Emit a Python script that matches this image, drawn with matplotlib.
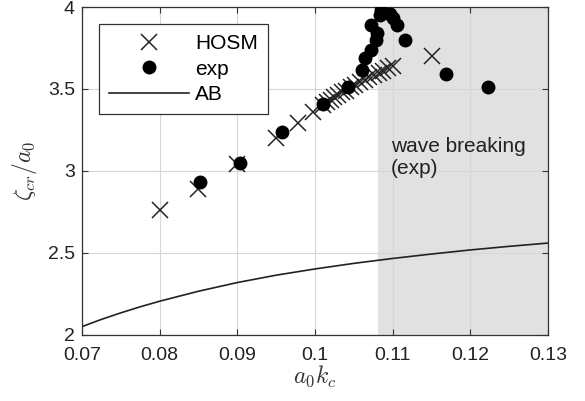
import matplotlib
matplotlib.use("Agg")
import matplotlib.pyplot as plt

plt.rcParams['font.family'] = ['Liberation Sans', 'DejaVu Sans']
plt.rcParams['mathtext.fontset'] = 'cm'

# HOSM simulations
hosm_k = [0.0800, 0.0850, 0.0900, 0.0950, 0.0978, 0.0997, 0.1010, 0.1015,
          0.1020, 0.1025, 0.1030, 0.1035, 0.1040, 0.1046, 0.1052, 0.1058,
          0.1064, 0.1070, 0.1076, 0.1082, 0.1088, 0.1094, 0.1100, 0.1150]
hosm_z = [2.76, 2.89, 3.04, 3.20, 3.29, 3.36, 3.40, 3.42,
          3.435, 3.45, 3.465, 3.48, 3.49, 3.51, 3.525, 3.54,
          3.555, 3.57, 3.585, 3.595, 3.61, 3.625, 3.64, 3.70]

# Experiments
exp_k = [0.0852, 0.0904, 0.0957, 0.1010, 0.1042, 0.1061, 0.1064, 0.1072,
         0.1079, 0.1080, 0.1072, 0.1083, 0.1085, 0.1096, 0.1100, 0.1105,
         0.1116, 0.1169, 0.1222]
exp_z = [2.93, 3.05, 3.24, 3.41, 3.51, 3.615, 3.687, 3.74,
         3.80, 3.84, 3.89, 3.95, 3.98, 3.96, 3.93, 3.89,
         3.80, 3.59, 3.51]

# AB theory curve
ab_k = [0.0700, 0.0725, 0.0750, 0.0775, 0.0800, 0.0850, 0.0900, 0.0950,
        0.1000, 0.1050, 0.1100, 0.1150, 0.1200, 0.1250, 0.1300]
ab_z = [2.050, 2.094, 2.134, 2.171, 2.205, 2.266, 2.319, 2.364,
        2.402, 2.436, 2.466, 2.493, 2.518, 2.540, 2.560]

# Breaking onset in experiments
break_k = 0.1081

xticks = [0.07, 0.08, 0.09, 0.10, 0.11, 0.12, 0.13]
xtick_labels = ['0.07', '0.08', '0.09', '0.1', '0.11', '0.12', '0.13']
yticks = [2, 2.5, 3, 3.5, 4]
ytick_labels = ['2', '2.5', '3', '3.5', '4']

fig = plt.figure(figsize=(5.85, 4.01), dpi=100)
ax = fig.add_axes([0.140, 0.165, 0.797, 0.8175])

ax.axvspan(break_k, 0.13, color='#e1e1e1', zorder=0, lw=0)
ax.grid(True, color='#d6d6d6', lw=0.8, zorder=1)
ax.set_axisbelow(True)

ax.plot(ab_k, ab_z, '-', color='#222222', lw=1.2, label='AB', zorder=3)
ax.plot(hosm_k, hosm_z, 'x', color='#222222', ms=11, mew=1.1, ls='none',
        label='HOSM', zorder=4)
ax.plot(exp_k, exp_z, 'o', color='black', ms=9, ls='none', label='exp',
        zorder=5)

ax.text(0.1098, 3.08, 'wave breaking\n(exp)', fontsize=15, color='#222222',
        va='center', ha='left', linespacing=1.2, zorder=6)

ax.set_xlim(0.07, 0.13)
ax.set_ylim(2, 4)
ax.set_xticks(xticks)
ax.set_xticklabels(xtick_labels)
ax.set_yticks(yticks)
ax.set_yticklabels(ytick_labels)
ax.tick_params(direction='in', length=4, width=0.8, labelsize=14,
               top=True, right=True, colors='#333333', labelcolor='#222222')
ax.tick_params(axis='x', pad=8.5)
ax.tick_params(axis='y', pad=5)
for s in ax.spines.values():
    s.set_color('#333333')
    s.set_linewidth(0.9)

ax.set_xlabel(r'$a_0k_c$', fontsize=17, color='#333333', labelpad=0)
ax.set_ylabel(r'$\zeta_{cr}/a_0$', fontsize=17, color='#333333', labelpad=6)

handles, labels = ax.get_legend_handles_labels()
order = [1, 2, 0]
leg = ax.legend([handles[i] for i in order], [labels[i] for i in order],
                loc='upper left', bbox_to_anchor=(0.0365, 0.948),
                borderaxespad=0, fontsize=15, fancybox=False, framealpha=1,
                edgecolor='#333333', handlelength=3.8, borderpad=0.5,
                labelspacing=0.3, handletextpad=0.3)
leg.get_frame().set_linewidth(0.9)

fig.savefig('out.png', dpi=100)
